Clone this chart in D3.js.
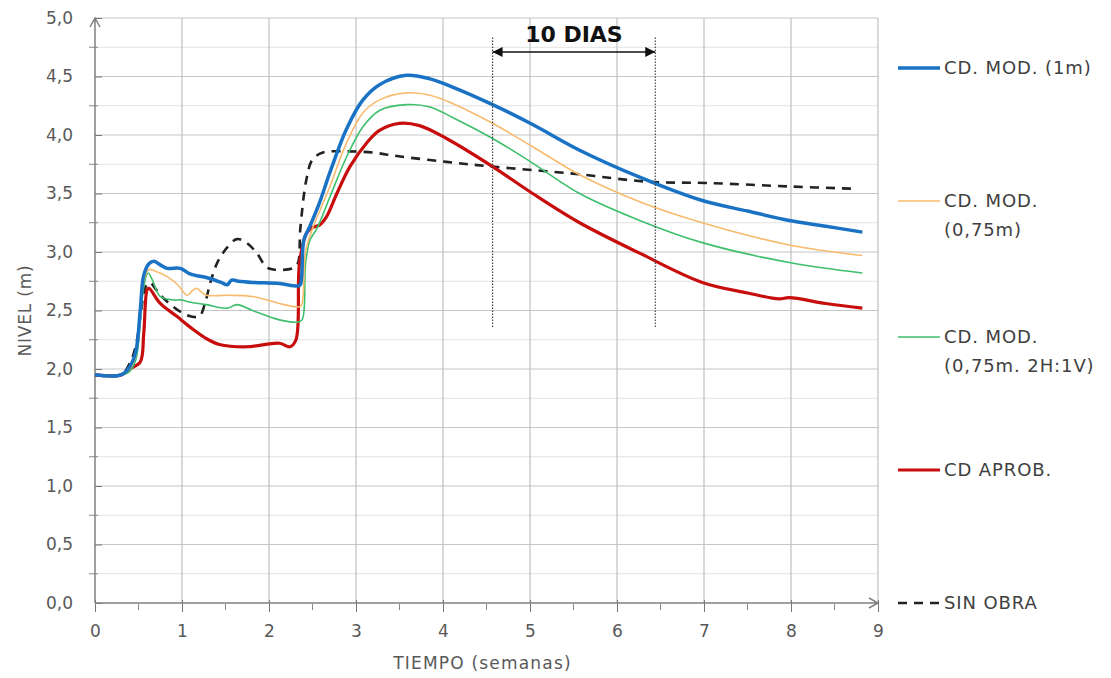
<!DOCTYPE html>
<html>
<head>
<meta charset="utf-8">
<script src="https://cdn.jsdelivr.net/npm/d3@7"></script>
<style>
  body { margin: 0; background: #fff; }
  text { font-family: "DejaVu Sans", sans-serif; }
</style>
</head>
<body>
<div id="chart"></div>
<script>
// series data: [semanas, nivel]
const cdMod1m = [[0,1.95],[0.3,1.95],[0.4,2.02],[0.47,2.15],[0.52,2.5],[0.56,2.8],[0.62,2.9],[0.68,2.92],[0.75,2.89],[0.83,2.86],[0.98,2.86],[1.1,2.81],[1.29,2.78],[1.45,2.74],[1.52,2.72],[1.57,2.76],[1.65,2.75],[1.81,2.74],[2.12,2.73],[2.33,2.71],[2.36,2.72],[2.4,3.1],[2.47,3.22],[2.58,3.42],[2.7,3.68],[2.89,4.05],[3.08,4.3],[3.27,4.43],[3.58,4.51],[3.85,4.48],[4.11,4.41],[4.57,4.26],[5.03,4.09],[5.57,3.87],[6.26,3.64],[6.98,3.44],[7.5,3.35],[7.98,3.27],[8.4,3.22],[8.82,3.17]];
const cdMod075 = [[0,1.95],[0.3,1.95],[0.4,2.0],[0.47,2.12],[0.52,2.45],[0.56,2.75],[0.62,2.85],[0.68,2.84],[0.83,2.79],[0.95,2.72],[1.06,2.63],[1.12,2.67],[1.17,2.69],[1.22,2.66],[1.28,2.63],[1.52,2.63],[1.81,2.62],[2.12,2.56],[2.33,2.53],[2.37,2.54],[2.42,3.0],[2.5,3.2],[2.6,3.38],[2.7,3.56],[2.89,3.93],[3.08,4.19],[3.27,4.3],[3.58,4.36],[3.85,4.34],[4.11,4.27],[4.57,4.1],[5.03,3.9],[5.57,3.66],[6.26,3.43],[6.98,3.25],[7.98,3.06],[8.82,2.97]];
const cdMod2h1v = [[0,1.95],[0.3,1.95],[0.4,1.98],[0.47,2.08],[0.52,2.4],[0.56,2.7],[0.61,2.82],[0.66,2.76],[0.75,2.62],[0.9,2.59],[1.0,2.59],[1.1,2.57],[1.28,2.55],[1.52,2.52],[1.63,2.55],[1.81,2.5],[2.12,2.42],[2.32,2.4],[2.38,2.42],[2.42,2.9],[2.47,3.1],[2.55,3.2],[2.7,3.47],[2.89,3.81],[3.08,4.07],[3.27,4.21],[3.58,4.26],[3.85,4.24],[4.11,4.15],[4.57,3.97],[5.03,3.76],[5.57,3.5],[6.26,3.27],[6.98,3.08],[7.98,2.91],[8.82,2.82]];
const cdAprob = [[0,1.95],[0.3,1.95],[0.4,2.0],[0.52,2.06],[0.56,2.3],[0.6,2.68],[0.62,2.69],[0.75,2.56],[0.94,2.45],[1.09,2.36],[1.28,2.26],[1.43,2.21],[1.74,2.19],[2.12,2.22],[2.24,2.19],[2.31,2.25],[2.35,2.9],[2.43,3.16],[2.5,3.21],[2.58,3.23],[2.66,3.3],[2.78,3.5],[2.93,3.73],[3.12,3.93],[3.27,4.04],[3.5,4.1],[3.73,4.08],[4.04,3.97],[4.57,3.73],[5.03,3.5],[5.57,3.25],[6.26,2.99],[6.98,2.74],[7.5,2.65],[7.86,2.6],[7.98,2.61],[8.4,2.56],[8.82,2.52]];
const sinObra = [[0,1.95],[0.3,1.95],[0.4,2.05],[0.47,2.2],[0.53,2.5],[0.58,2.7],[0.63,2.74],[0.7,2.68],[0.78,2.61],[0.98,2.49],[1.1,2.45],[1.2,2.45],[1.26,2.55],[1.33,2.75],[1.4,2.9],[1.47,2.99],[1.52,3.04],[1.63,3.11],[1.74,3.08],[1.86,2.99],[1.97,2.87],[2.05,2.85],[2.27,2.86],[2.33,2.9],[2.36,3.2],[2.43,3.62],[2.5,3.79],[2.62,3.85],[2.89,3.86],[3.19,3.85],[3.47,3.82],[4.04,3.77],[4.57,3.73],[5.49,3.67],[6.37,3.6],[7.03,3.59],[7.98,3.56],[8.75,3.54]];

const xTicks = [0, 1, 2, 3, 4, 5, 6, 7, 8, 9];
const yTicks = [0, 0.5, 1, 1.5, 2, 2.5, 3, 3.5, 4, 4.5, 5];
// annotation "10 DIAS": start/end (semanas), bottom/top of the dotted lines, arrow level
const diasX = [4.57, 6.44];
const diasY = [2.36, 4.84];
const diasArrowY = 4.71;

const series = [
  { name: ["CD. MOD. (1m)"], data: cdMod1m, color: "#1a72c4", width: 3.5, dash: null, legendY: 68 },
  { name: ["CD. MOD.", "(0,75m)"], data: cdMod075, color: "#f8bb6e", width: 1.6, dash: null, legendY: 201 },
  { name: ["CD. MOD.", "(0,75m. 2H:1V)"], data: cdMod2h1v, color: "#3dbf6b", width: 1.6, dash: null, legendY: 337 },
  { name: ["CD APROB."], data: cdAprob, color: "#c80d0d", width: 3.2, dash: null, legendY: 470 },
  { name: ["SIN OBRA"], data: sinObra, color: "#222", width: 2.6, dash: "9,7", legendY: 603 }
];

const width = 1111, height = 678;
const margin = { top: 18, right: 233, bottom: 75, left: 95 };
const innerW = width - margin.left - margin.right;
const innerH = height - margin.top - margin.bottom;

const svg = d3.select("#chart").append("svg")
  .attr("width", width)
  .attr("height", height);

const g = svg.append("g")
  .attr("transform", `translate(${margin.left},${margin.top})`);

const x = d3.scaleLinear().domain([0, 9]).range([0, innerW]);
const y = d3.scaleLinear().domain([0, 5]).range([innerH, 0]);

// minor horizontal grid (every 0.25)
g.append("g").selectAll("line")
  .data(d3.range(0.25, 5, 0.5))
  .join("line")
  .attr("x1", 0).attr("x2", innerW)
  .attr("y1", d => y(d)).attr("y2", d => y(d))
  .attr("stroke", "#e2e2e2").attr("stroke-width", 1.2);

// major horizontal grid
g.append("g").selectAll("line")
  .data(yTicks.slice(1))
  .join("line")
  .attr("x1", 0).attr("x2", innerW)
  .attr("y1", d => y(d)).attr("y2", d => y(d))
  .attr("stroke", "#c6c6c6").attr("stroke-width", 1.2);

// vertical grid
g.append("g").selectAll("line")
  .data(xTicks.slice(1))
  .join("line")
  .attr("x1", d => x(d)).attr("x2", d => x(d))
  .attr("y1", 0).attr("y2", innerH)
  .attr("stroke", "#c0c0c0").attr("stroke-width", 1.2);

// y axis
const yAxis = g.append("g")
  .call(d3.axisLeft(y).tickValues(yTicks).tickSize(8).tickFormat(d => d3.format(".1f")(d).replace(".", ",")));
yAxis.select(".domain").remove();
yAxis.selectAll(".tick line").attr("x2", 7).attr("stroke", "#777");
yAxis.selectAll(".tick text")
  .attr("x", -22).attr("fill", "#595959").style("font-size", "17px");
g.append("g").selectAll("line")
  .data(d3.range(0.25, 5, 0.5))
  .join("line")
  .attr("x1", -6).attr("x2", 3)
  .attr("y1", d => y(d)).attr("y2", d => y(d))
  .attr("stroke", "#888");

// x axis
const xAxis = g.append("g")
  .attr("transform", `translate(0,${innerH})`)
  .call(d3.axisBottom(x).tickValues(xTicks).tickSize(9));
xAxis.select(".domain").remove();
xAxis.selectAll(".tick line").attr("y1", -3).attr("stroke", "#777");
xAxis.selectAll(".tick text")
  .attr("y", 22).attr("fill", "#595959").style("font-size", "17px");
g.append("g").selectAll("line")
  .data(d3.range(0.5, 9, 1))
  .join("line")
  .attr("x1", d => x(d)).attr("x2", d => x(d))
  .attr("y1", innerH + 1).attr("y2", innerH + 7)
  .attr("stroke", "#888");

// axis lines with open arrowheads
g.append("path")
  .attr("d", `M0,${innerH} V0 M-5,9 L0,0 L5,9`)
  .attr("fill", "none").attr("stroke", "#808080").attr("stroke-width", 1.5);
g.append("path")
  .attr("d", `M0,${innerH} H${innerW} M${innerW - 9},${innerH - 5} L${innerW},${innerH} L${innerW - 9},${innerH + 5}`)
  .attr("fill", "none").attr("stroke", "#808080").attr("stroke-width", 1.5);

// axis titles
svg.append("text")
  .attr("x", margin.left + x(4.5) - 4).attr("y", 669)
  .attr("text-anchor", "middle")
  .attr("fill", "#595959").style("font-size", "17px").style("letter-spacing", "1.2px")
  .text("TIEMPO (semanas)");
svg.append("text")
  .attr("transform", `translate(31,${margin.top + y(2.5)}) rotate(-90)`)
  .attr("text-anchor", "middle")
  .attr("fill", "#595959").style("font-size", "17px").style("letter-spacing", "0.8px")
  .text("NIVEL (m)");

// curves
const line = d3.line()
  .x(d => x(d[0]))
  .y(d => y(d[1]))
  .curve(d3.curveCatmullRom.alpha(0.5));

g.append("g").selectAll("path")
  .data(series.slice().reverse())
  .join("path")
  .attr("d", d => line(d.data))
  .attr("fill", "none")
  .attr("stroke", d => d.color)
  .attr("stroke-width", d => d.width)
  .attr("stroke-dasharray", d => d.dash)
  .attr("stroke-linejoin", "round");

// "10 DIAS" annotation
g.selectAll(".dias")
  .data(diasX)
  .join("line")
  .attr("class", "dias")
  .attr("x1", d => x(d)).attr("x2", d => x(d))
  .attr("y1", y(diasY[0])).attr("y2", y(diasY[1]))
  .attr("stroke", "#444").attr("stroke-width", 1.2)
  .attr("stroke-dasharray", "1.5,1.5");

svg.append("defs").append("marker")
  .attr("id", "arrow")
  .attr("viewBox", "0 0 10 10")
  .attr("refX", 10).attr("refY", 5)
  .attr("markerWidth", 10).attr("markerHeight", 10)
  .attr("markerUnits", "userSpaceOnUse")
  .attr("orient", "auto-start-reverse")
  .append("path")
  .attr("d", "M0,0 L10,5 L0,10 Z")
  .attr("fill", "#111");

g.append("line")
  .attr("x1", x(diasX[0])).attr("x2", x(diasX[1]))
  .attr("y1", y(diasArrowY)).attr("y2", y(diasArrowY))
  .attr("stroke", "#111").attr("stroke-width", 1.6)
  .attr("marker-start", "url(#arrow)")
  .attr("marker-end", "url(#arrow)");

g.append("text")
  .attr("x", x((diasX[0] + diasX[1]) / 2)).attr("y", y(diasArrowY) - 10)
  .attr("text-anchor", "middle")
  .attr("fill", "#111")
  .style("font-size", "22px").style("font-weight", "bold")
  .text("10 DIAS");

// legend
const legend = svg.append("g");
const items = legend.selectAll("g")
  .data(series)
  .join("g")
  .attr("transform", d => `translate(898,${d.legendY})`);

items.append("line")
  .attr("x1", 0).attr("x2", 42)
  .attr("stroke", d => d.color)
  .attr("stroke-width", d => d.width)
  .attr("stroke-dasharray", d => d.dash);

items.append("text")
  .attr("x", 46)
  .attr("fill", "#404040")
  .style("font-size", "18px")
  .style("letter-spacing", "0.9px")
  .selectAll("tspan")
  .data(d => d.name)
  .join("tspan")
  .attr("x", 46)
  .attr("y", (d, i) => i * 29 + 6)
  .text(d => d);
</script>
</body>
</html>
